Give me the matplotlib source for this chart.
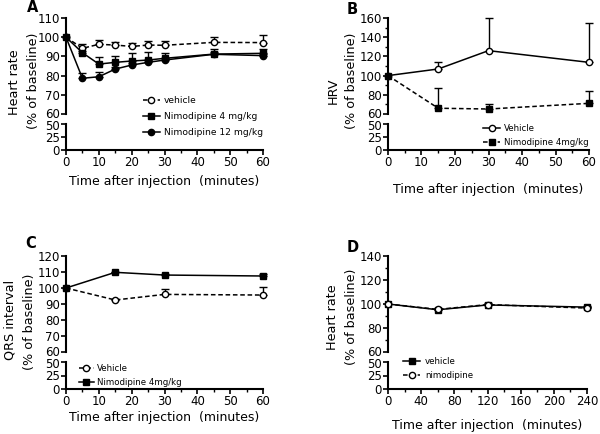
"""
Four-panel figure: heart rate, HRV and QRS interval after nimodipine.
Style: GraphPad-like broken y axis, black and white markers.
"""

import numpy as np
import matplotlib
matplotlib.use("Agg")
import matplotlib.pyplot as plt
import matplotlib.transforms as mtransforms
from matplotlib.ticker import MultipleLocator, FixedLocator

plt.rcParams["font.family"] = ["DejaVu Sans"]

# Panel A: heart rate, 0-60 min
A_TIME = [0, 5, 10, 15, 20, 25, 30, 45, 60]
A_VEH = [100, 94.2, 96.3, 95.9, 95.2, 95.9, 95.8, 97.3, 97.2]
A_VEH_ERR = [0, 2.0, 2.2, 1.8, 2.0, 2.1, 2.4, 3.0, 3.9]
A_NIM4 = [100, 91.9, 86.0, 86.9, 87.6, 88.1, 89.0, 91.2, 91.6]
A_NIM4_ERR = [0, 1.0, 3.9, 3.5, 4.3, 4.4, 3.0, 2.5, 2.0]
A_NIM12 = [100, 78.6, 79.4, 83.4, 85.5, 86.9, 88.1, 91.1, 90.4]
A_NIM12_ERR = [0, 2.6, 2.3, 1.0, 1.0, 1.0, 1.0, 1.0, 1.0]

# Panel B: HRV
B_TIME = [0, 15, 30, 60]
B_VEH = [100, 106.9, 126.0, 113.8]
B_VEH_ERR = [0, 7.0, 33.7, 41.0]
B_NIM4 = [100, 66.0, 65.2, 71.1]
B_NIM4_ERR = [0, 20.7, 5.2, 12.5]

# Panel C: QRS interval
C_TIME = [0, 15, 30, 60]
C_VEH = [100, 92.5, 96.0, 95.6]
C_VEH_ERR = [0, 0.5, 3.2, 5.2]
C_NIM4 = [100, 109.8, 108.1, 107.5]
C_NIM4_ERR = [0, 0.5, 0.5, 1.5]

# Panel D: heart rate, 0-240 min
D_TIME = [0, 60, 120, 240]
D_VEH = [100, 95.2, 99.2, 97.4]
D_VEH_ERR = [0, 1.0, 1.0, 1.0]
D_NIM = [100, 95.5, 99.5, 96.6]
D_NIM_ERR = [0, 1.0, 1.0, 1.0]

LOWER_TICKS = [0, 25, 50]

W, H = 600, 434
LW = 1.1
SPINE_LW = 1.5
MS = 4.5
DASH = (0, (3, 1.8))
TICK_FS = 8.5
XLABEL = "Time after injection  (minutes)"


def fx(px):
    return px / W


def fy(py):
    return 1 - py / H


def nudge(tick, fig, dy_pt):
    # shift one tick label a little so 60 and 50 at the break don't collide
    off = mtransforms.ScaledTranslation(0, dy_pt / 72, fig.dpi_scale_trans)
    tick.label1.set_transform(tick.label1.get_transform() + off)


def broken_panel(fig, x0, x1, up_top, up_bot, lo_top, lo_bot,
                 ylim, ymajor, yminor, xlim, xmajor, xminor):
    ax_u = fig.add_axes([fx(x0), fy(up_bot), fx(x1 - x0), (up_bot - up_top) / H])
    ax_l = fig.add_axes([fx(x0), fy(lo_bot), fx(x1 - x0), (lo_bot - lo_top) / H])
    for ax in (ax_u, ax_l):
        ax.set_facecolor("none")
        for s in ("top", "right"):
            ax.spines[s].set_visible(False)
        ax.spines["left"].set_linewidth(SPINE_LW)
        ax.spines["bottom"].set_linewidth(SPINE_LW)
        ax.set_xlim(*xlim)
        ax.tick_params(which="major", direction="out", length=3.5, width=1.2,
                       labelsize=TICK_FS, pad=0.8)
        ax.tick_params(which="minor", direction="out", length=2.2, width=1.0)
    ax_u.spines["bottom"].set_visible(False)
    ax_u.tick_params(axis="x", which="both", bottom=False, labelbottom=False)
    ax_u.set_ylim(*ylim)
    up_ticks = np.arange(ylim[0], ylim[1] + 1, ymajor)
    ax_u.yaxis.set_major_locator(FixedLocator(up_ticks))
    if yminor:
        ax_u.yaxis.set_minor_locator(MultipleLocator(yminor))
    ax_l.set_ylim(0, 50)
    ax_l.yaxis.set_major_locator(FixedLocator(LOWER_TICKS))
    ax_l.xaxis.set_major_locator(MultipleLocator(xmajor))
    ax_l.xaxis.set_minor_locator(MultipleLocator(xminor))
    nudge(ax_u.yaxis.get_major_ticks(len(up_ticks))[0], fig, 0.9)
    nudge(ax_l.yaxis.get_major_ticks(len(LOWER_TICKS))[-1], fig, -0.9)
    return ax_u, ax_l


def series(ax, x, y, err, marker, face, ls, label):
    x = np.array(x, dtype=float)
    y = np.array(y, dtype=float)
    err = np.array(err, dtype=float)
    m = err > 0
    eb = ax.errorbar(x[m], y[m], yerr=[np.zeros(m.sum()), err[m]], fmt="none",
                     ecolor="black", elinewidth=1.0, capsize=2.8, capthick=1.0,
                     zorder=2)
    for child in eb.get_children():
        child.set_clip_on(False)
    line, = ax.plot(x, y, color="black", lw=LW, linestyle=ls, marker=marker,
                    markersize=MS, markerfacecolor=face, markeredgecolor="black",
                    markeredgewidth=1.0, clip_on=False, zorder=3, label=label)
    return line


def legend(ax, fig, x, y, size, spacing, hlen, hpad):
    ax.legend(loc="upper left", bbox_to_anchor=(fx(x), fy(y)),
              bbox_transform=fig.transFigure, frameon=False, fontsize=size,
              borderpad=0, borderaxespad=0, handlelength=hlen,
              handletextpad=hpad, labelspacing=spacing)


fig = plt.figure(figsize=(6, 4.34), dpi=100)

# A
a_u, a_l = broken_panel(fig, 66, 263, 18, 114, 124, 150,
                        (60, 110), 10, None, (0, 60), 10, 5)
series(a_u, A_TIME, A_VEH, A_VEH_ERR, "o", "white", DASH, "vehicle")
series(a_u, A_TIME, A_NIM4, A_NIM4_ERR, "s", "black", "-", "Nimodipine 4 mg/kg")
series(a_u, A_TIME, A_NIM12, A_NIM12_ERR, "o", "black", "-", "Nimodipine 12 mg/kg")
legend(a_u, fig, 143, 96, 6.6, 0.75, 1.8, 0.5)
a_l.set_xlabel(XLABEL, fontsize=9, labelpad=4)

# B
b_u, b_l = broken_panel(fig, 388, 589, 18, 114, 124, 150,
                        (60, 160), 20, 10, (0, 60), 10, 5)
series(b_u, B_TIME, B_VEH, B_VEH_ERR, "o", "white", "-", "Vehicle")
series(b_u, B_TIME, B_NIM4, B_NIM4_ERR, "s", "black", DASH, "Nimodipine 4mg/kg")
legend(b_u, fig, 483, 124, 6.2, 0.55, 2.0, 0.45)
b_l.set_xlabel(XLABEL, fontsize=9, labelpad=10)

# C
c_u, c_l = broken_panel(fig, 66, 263, 256, 352, 362, 389,
                        (60, 120), 10, None, (0, 60), 10, 5)
series(c_u, C_TIME, C_VEH, C_VEH_ERR, "o", "white", DASH, "Vehicle")
series(c_u, C_TIME, C_NIM4, C_NIM4_ERR, "s", "black", "-", "Nimodipine 4mg/kg")
legend(c_u, fig, 79, 364, 6.2, 0.55, 1.7, 0.35)
c_l.set_xlabel(XLABEL, fontsize=9, labelpad=2)

# D
d_u, d_l = broken_panel(fig, 388, 587, 256, 352, 362, 389,
                        (60, 140), 20, 10, (0, 240), 40, 20)
series(d_u, D_TIME, D_VEH, D_VEH_ERR, "s", "black", "-", "vehicle")
series(d_u, D_TIME, D_NIM, D_NIM_ERR, "o", "white", DASH, "nimodipine")
legend(d_u, fig, 403, 357, 6.2, 0.55, 2.0, 0.55)
d_l.set_xlabel(XLABEL, fontsize=9, labelpad=8)

# y labels, one text per line
ylabels = [
    (14, 82, "Heart rate"), (33, 81, "(% of baseline)"),
    (333, 91, "HRV"), (352, 81, "(% of baseline)"),
    (10, 320, "QRS interval"), (30, 322, "(% of baseline)"),
    (332, 317, "Heart rate"), (352, 317, "(% of baseline)"),
]
for x, y, txt in ylabels:
    fig.text(fx(x), fy(y), txt, rotation=90, ha="center", va="center",
             fontsize=9.2)

for x, y, letter in [(27, 8, "A"), (347, 10, "B"), (25, 244, "C"), (347, 248, "D")]:
    fig.text(fx(x), fy(y), letter, ha="left", va="center",
             fontsize=10.5, fontweight="bold")

fig.savefig("out.png", dpi=100)
plt.close(fig)
